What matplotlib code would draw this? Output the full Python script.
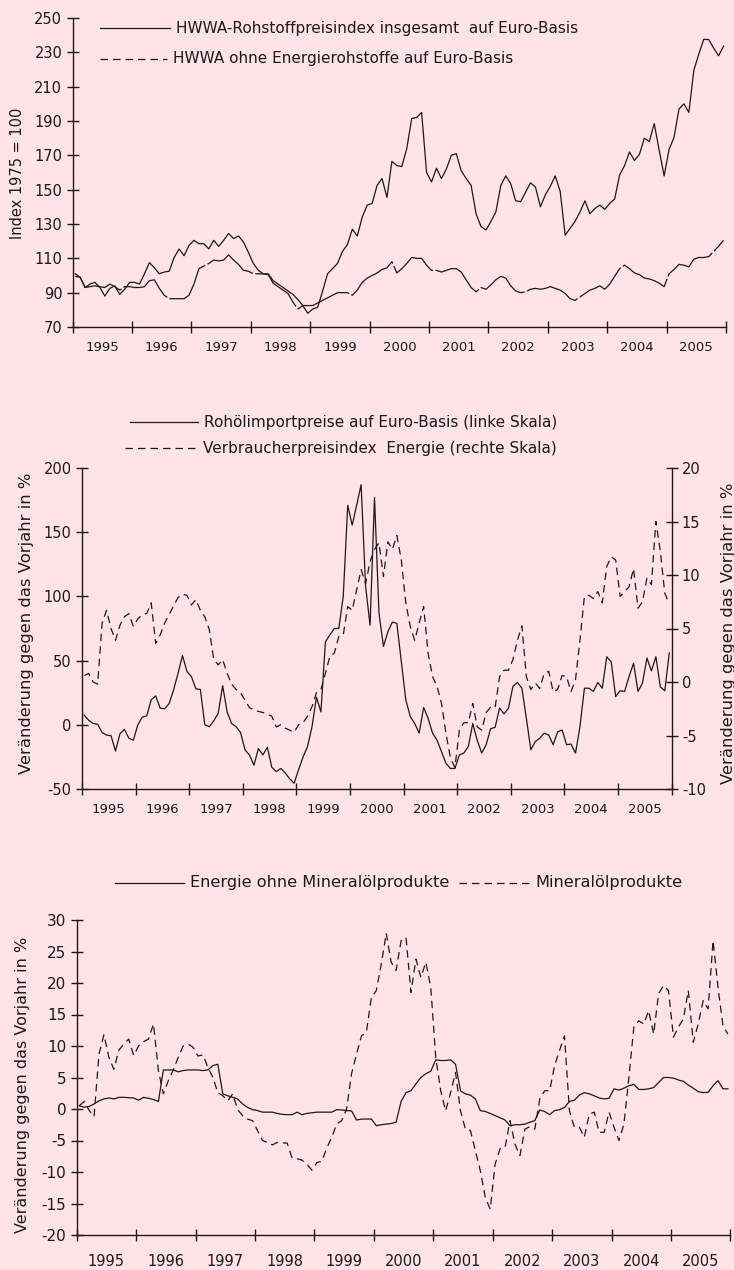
import numpy as np
import matplotlib.pyplot as plt
from matplotlib.lines import Line2D

plt.rcParams['axes.unicode_minus'] = False

BG = '#ffe3e6'
INK = '#1a1a1a'

years = list(range(1995, 2006))

# monthly values Jan 1995 .. Dec 2005
hwwa_total = [
    101, 99, 93, 95, 96, 93, 88, 92.5, 94, 89, 92, 96,
    96, 95, 101, 107.5, 104.5, 101, 102, 102.5, 110.5, 115.5, 111.5, 117.5,
    120.5, 118.5, 118.5, 115.5, 120.5, 117, 120.5, 124.5, 121.5, 123, 119.5, 113.5,
    107, 103, 101, 101, 97, 95, 93, 91, 89, 86, 82.5, 78,
    80.5, 81.5, 91, 101, 104, 107, 114, 118, 127, 123, 134, 141,
    142, 152.5, 156.5, 145.5, 166.5, 164, 163.5, 174, 191.5, 192, 195, 160,
    154.5, 162.5, 156.5, 162, 170, 171, 161, 156.5, 152.5, 136, 128.5, 126.5,
    131.5, 137, 152.5, 158, 153.5, 143.5, 143, 148.5, 154, 151.5, 140, 147,
    152, 158, 149, 123.5, 127.5, 131.5, 137, 143.5, 136, 139, 141, 138.5,
    142, 144.5, 158.5, 164, 172, 167, 170.5, 180, 178, 188.5, 173, 158,
    173.5, 180.5, 197, 200, 195, 219.5, 229, 237.5, 237.5, 232.5, 228, 233.5,
]
hwwa_ex_energy = [
    99.5, 99, 93, 93.5, 94, 93.5, 93, 95, 93.5, 91.5, 93.5, 93.5,
    93, 93, 93.5, 97, 97.5, 92.5, 88.5, 86.5, 86.5, 86.5, 86.5, 88.5,
    95, 104, 105.5, 107, 109, 108.5, 109, 112, 109, 106.5, 103, 102.5,
    101, 101, 101, 100.5, 95.5, 93.5, 91.5, 89.5, 84.5, 80.5, 82.5, 82.5,
    82.5, 84, 85.5, 87, 88.5, 90, 90, 90, 88.5, 91.5, 96, 98.5,
    100, 101.5, 103.5, 104.5, 108, 101.5, 104, 107, 110.5, 110, 110, 106,
    103, 103, 102, 103, 104, 104, 102, 97.5, 93, 90.5, 93, 92,
    94.5, 97.5, 99.5, 98.5, 94, 91, 90, 90.5, 92, 92.5, 92, 92.5,
    93.5, 92.5, 91.5, 89.5, 86.5, 85.5, 87.5, 89.5, 91.5, 92.5, 94, 92,
    95, 99.5, 104, 106, 104, 101.5, 100.5, 98.5, 98, 97, 95.5, 93.5,
    101, 103.5, 106.5, 106, 105, 109.5, 110.5, 110.5, 111, 114, 117, 120.5,
]
crude_import = [
    7.5, 3.5, 1, 0.5, -6, -8, -8.5, -20.5, -7, -3.5, -10.5, -12,
    0, 6, 7, 19.5, 22.5, 13, 12.5, 16.5, 27, 40, 54, 41.5,
    37.5, 28, 27.5, 0, -1.5, 3, 9, 30.5, 10, 1, -1.5, -6,
    -19.5, -23.5, -31.5, -18.5, -23.5, -17.5, -33, -36.5, -34, -37.5, -42, -45.5,
    -35, -25, -17, -1.5, 21.5, 10, 64.5, 70, 75, 75, 100, 171,
    155.5, 171, 187, 108, 77.5, 177, 87, 61, 72.5, 80, 79, 49,
    19.5, 6.5, 1, -6.5, 13.5, 5, -6.5, -12, -21, -30, -34, -34,
    -23.5, -22, -17, 1, -12, -22, -15.5, -3, -2, 13, 8.5, 13,
    30, 33, 28.5, 5, -19.5, -13, -10.5, -6.5, -8, -15.5, -5.5, -4,
    -15.5, -15, -22, -1.5, 28.5, 28.5, 26, 33, 28.5, 53, 49, 22,
    26.5, 26, 37.5, 48, 26, 32.5, 52, 42, 53, 29.5, 26.5, 56,
]
cpi_energy = [
    0.6, 0.8, 0, -0.2, 5.5, 6.7, 5, 3.9, 5.3, 6.1, 6.4, 5.2,
    5.9, 6.3, 6.4, 7.4, 3.6, 4.4, 5.5, 6.3, 7.1, 7.9, 8.2, 8.1,
    7.2, 7.7, 6.7, 6.1, 4.9, 2.1, 1.6, 2.1, 0.8, -0.2, -0.7, -1.0,
    -1.7, -2.4, -2.6, -2.75, -2.85, -3.0, -3.2, -4.2, -4.0, -4.3, -4.5, -4.7,
    -4.0, -3.8, -3.2, -2.3, -1.0, -0.7, 0.8, 2.4, 2.7, 4.25, 4.4, 7.05,
    6.7, 8.6, 10.5, 9.2, 11.25, 12.4, 13.0, 9.85, 13.1, 12.4, 13.7, 11.4,
    7.4, 5.2, 3.9, 5.5, 7.05, 2.7, 0.5, -0.4, -2.0, -4.8, -7.1, -8.0,
    -4.5, -3.8, -3.8, -2.0, -4.2, -4.5, -2.85, -2.35, -2.4, 0.5, 1.1, 1.1,
    2.1, 3.9, 5.25, 0.5, -0.7, -0.1, -0.6, 0.8, 1.0, -0.9, -0.7, 0.6,
    0.5, -0.9, 0.2, 3.9, 8.0, 8.1, 7.8, 8.45, 7.4, 10.8, 11.7, 11.4,
    8.0, 8.45, 8.9, 10.6, 6.9, 7.5, 9.7, 9.1, 15.0, 12.2, 8.3, 7.3,
]
energy_ex_oil = [
    0.5, 0.3, 0.4, 0.8, 1.3, 1.6, 1.75, 1.6, 1.85, 1.85, 1.8, 1.75,
    1.4, 1.85, 1.7, 1.5, 1.2, 6.2, 6.2, 6.2, 5.9, 6.1, 6.2, 6.2,
    6.2, 6.1, 6.2, 6.9, 7.1, 2.4, 2.1, 1.85, 1.6, 0.8, 0.25, -0.1,
    -0.25, -0.5, -0.5, -0.5, -0.7, -0.85, -0.9, -0.9, -0.5, -0.9, -0.7, -0.6,
    -0.5, -0.5, -0.5, -0.5, -0.1, -0.15, -0.25, -0.3, -1.75, -1.6, -1.6, -1.6,
    -2.65, -2.5, -2.4, -2.3, -2.1, 1.2, 2.6, 2.9, 4.0, 5.0, 5.6, 6.0,
    7.8, 7.7, 7.7, 7.8, 7.1, 2.9, 2.4, 2.2, 1.6, -0.25, -0.4, -0.7,
    -1.05, -1.4, -1.75, -2.65, -2.5, -2.5, -2.4, -2.1, -1.85, -0.15, -0.4, -0.9,
    -0.25, -0.1, 0.25, 1.2, 1.4, 2.2, 2.6, 2.4, 2.1, 1.75, 1.6, 1.7,
    3.2, 3.0, 3.3, 3.7, 3.9, 3.1, 3.1, 3.2, 3.4, 4.2, 5.0, 5.0,
    4.9, 4.6, 4.4, 3.8, 3.3, 2.75, 2.6, 2.65, 3.7, 4.5, 3.2, 3.2,
]
oil_products = [
    0.5, 1.2, -0.2, -1.2, 8.7, 11.8, 8.2, 6.3, 9.3, 10.3, 11.1, 8.5,
    10, 10.7, 11.1, 13.5, 6.1, 2.4, 4.5, 6.2, 8.2, 10, 10.3, 9.8,
    8.4, 8.6, 6.6, 5, 2.6, 2.1, 1.3, 2.4, -0.1, -1.05, -1.6, -1.85,
    -3.4, -5, -5.3, -5.7, -5.3, -5.4, -5.4, -7.8, -7.9, -8.1, -8.8, -9.7,
    -8.5, -8.3, -6.2, -4.5, -2.4, -1.85, 0, 5.6, 8.7, 11.6, 12.2, 17.7,
    18.8, 23, 27.9, 23.3, 22, 26.7, 27.2, 18.5, 23.8, 20.9, 23.3, 19.3,
    8.2, 2.9, -0.3, 2.6, 5.8, -0.3, -3.2, -3.4, -6.6, -9.8, -14, -15.9,
    -8.7, -6.3, -6.1, -1.85, -5.6, -7.4, -3.2, -2.8, -3.2, 1.6, 2.9, 2.9,
    6.9, 9.3, 11.6, -0.3, -2.9, -2.9, -4.5, -0.8, -0.5, -3.7, -3.7, -0.5,
    -2.9, -5, -2.4, 5, 13, 14, 13.5, 15.6, 11.9, 18.3, 19.6, 18.8,
    11.4, 13, 14.3, 18.8, 10.6, 13.5, 17.2, 15.9, 26.7, 19.3, 13.2, 11.9,
]

W, H = 734, 1270
fig = plt.figure(figsize=(W / 100, H / 100), dpi=100, facecolor=BG)
months = np.arange(len(hwwa_total)) + 0.5
DASH = (0, (6, 4))


def box(l, r, t, b):
    return [l / W, 1 - b / H, (r - l) / W, (b - t) / H]


def setup(ax, ylo, yhi, ystep, ysize, xsize, xpad):
    ax.set_facecolor('none')
    ax.set_xlim(0, 132)
    ax.set_ylim(ylo, yhi)
    ax.set_yticks(np.arange(ylo, yhi + 1, ystep))
    ax.set_xticks(np.arange(0, 133, 12))
    ax.set_xticklabels([])
    ax.set_xticks(np.arange(6, 132, 12), minor=True)
    ax.set_xticklabels([str(y) for y in years], minor=True)
    ax.tick_params(axis='x', which='major', direction='inout', length=9, width=1, color=INK)
    ax.tick_params(axis='x', which='minor', length=0, pad=xpad, labelsize=xsize, labelcolor=INK)
    ax.tick_params(axis='y', direction='inout', length=9, width=1, labelsize=ysize,
                   pad=3, color=INK, labelcolor=INK)
    for s in ['top', 'right']:
        ax.spines[s].set_visible(False)
    for s in ['left', 'bottom']:
        ax.spines[s].set_linewidth(1)
        ax.spines[s].set_color(INK)


def legend_entry(x0, x1, y, text, ls, size):
    fig.add_artist(Line2D([x0 / W, x1 / W], [1 - y / H, 1 - y / H], color=INK, lw=0.9, linestyle=ls))
    fig.text((x1 + 6) / W, 1 - y / H, text, fontsize=size, va='center', ha='left', color=INK)


def ylabel(x, y, text, size):
    fig.text(x / W, 1 - y / H, text, rotation=90, fontsize=size, ha='center', va='center', color=INK)


# panel 1
ax1 = fig.add_axes(box(72.7, 726, 18, 327))
setup(ax1, 70, 250, 20, 10.5, 9.5, 10)
ax1.plot(months, hwwa_total, color=INK, lw=0.9)
ax1.plot(months, hwwa_ex_energy, color=INK, lw=0.9, linestyle=(0, (45, 2)))
legend_entry(100, 170, 28, 'HWWA-Rohstoffpreisindex insgesamt  auf Euro-Basis', '-', 11)
legend_entry(100, 167, 59, 'HWWA ohne Energierohstoffe auf Euro-Basis', DASH, 11)
ylabel(18, 173, 'Index 1975 = 100', 10.5)

# panel 2
ax2 = fig.add_axes(box(82, 671.5, 468, 789))
setup(ax2, -50, 200, 50, 10.5, 9.5, 10)
ax2.plot(months, crude_import, color=INK, lw=0.9)
ax2r = ax2.twinx()
ax2r.set_ylim(-10, 20)
ax2r.set_yticks(np.arange(-10, 21, 5))
ax2r.tick_params(axis='y', direction='inout', length=9, width=1, labelsize=10.5,
                 pad=3, color=INK, labelcolor=INK)
for s in ['top', 'left', 'bottom']:
    ax2r.spines[s].set_visible(False)
ax2r.spines['right'].set_linewidth(1)
ax2r.spines['right'].set_color(INK)
ax2r.plot(months, cpi_energy, color=INK, lw=0.9, linestyle=DASH)
legend_entry(130, 198, 422, 'Rohölimportpreise auf Euro-Basis (linke Skala)', '-', 11)
legend_entry(125, 197, 448, 'Verbraucherpreisindex  Energie (rechte Skala)', DASH, 11)
ylabel(27, 623, 'Veränderung gegen das Vorjahr in %', 11.8)
ylabel(729, 633, 'Veränderung gegen das Vorjahr in %', 11.8)

# panel 3
ax3 = fig.add_axes(box(76.7, 730.4, 920, 1235))
setup(ax3, -20, 30, 5, 11, 10.5, 14)
ax3.plot(months, energy_ex_oil, color=INK, lw=0.9)
ax3.plot(months, oil_products, color=INK, lw=0.9, linestyle=DASH)
legend_entry(115, 184, 883, 'Energie ohne Mineralölprodukte', '-', 11.6)
legend_entry(459, 529, 883, 'Mineralölprodukte', DASH, 11.6)
ylabel(23, 1085, 'Veränderung gegen das Vorjahr in %', 11.5)

fig.savefig('out.png', dpi=100, facecolor=BG)
